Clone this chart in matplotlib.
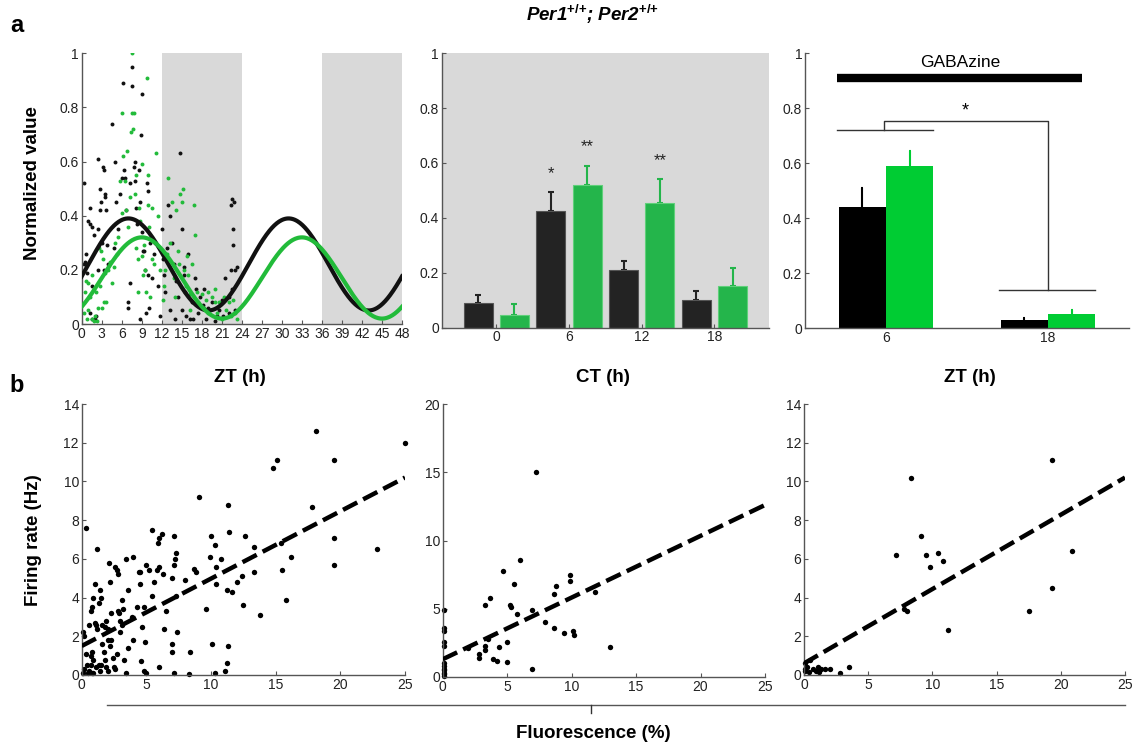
import numpy as np
import matplotlib
matplotlib.use("Agg")
import matplotlib.pyplot as plt
from matplotlib.lines import Line2D

plt.rcParams['font.family'] = ['Liberation Sans', 'DejaVu Sans']
plt.rcParams['mathtext.fontset'] = 'custom'
plt.rcParams['mathtext.it'] = 'Liberation Sans:italic:bold'
plt.rcParams['mathtext.rm'] = 'Liberation Sans:bold'

BLACK = '#111111'
GREEN = '#22bb3a'
GREEN2 = '#00cc33'
GRAY_BG = '#d9d9d9'

# ---- panel a, left: normalized value vs ZT (scatter + cosinor fit) ----
zt_black_x = [0.3, 0.5, 0.4, 0.7, 0.8, 1.0, 1.2, 1.3, 1.5, 1.5, 1.8, 1.2, 1.6, 2.0, 2.2, 2.4, 2.4, 2.5, 2.7, 2.8,
              2.9, 3.0, 3.2, 3.3, 3.5, 3.5, 3.4, 3.6, 3.8, 4.0, 4.5, 4.8, 5.0, 5.2, 5.5, 5.8, 6.0, 6.2, 6.4, 6.5,
              6.7, 6.9, 7.0, 7.2, 7.3, 7.5, 7.6, 7.8, 8.0, 8.0, 8.2, 8.3, 8.6, 8.7, 8.8, 8.9, 9.1, 9.0, 9.2, 9.4,
              9.5, 9.6, 9.8, 9.9, 10.0, 10.1, 10.2, 10.5, 10.8, 11.0, 11.5, 11.8, 12.0, 12.2, 12.3, 12.5, 12.8, 13.0, 13.2, 13.3,
              13.5, 13.8, 14.0, 14.2, 14.5, 14.8, 15.0, 15.1, 15.3, 15.4, 15.5, 15.7, 16.0, 16.2, 16.5, 16.7, 17.0, 17.2, 17.5, 17.8,
              18.2, 18.4, 18.7, 19.0, 19.5, 20.0, 20.3, 20.6, 21.0, 21.2, 21.5, 22.0, 22.3, 22.5, 22.6, 22.7, 22.8, 22.3, 22.5, 23.0,
              23.2, 23.0, 22.0]
zt_black_y = [0.52, 0.23, 0.22, 0.26, 0.19, 0.38, 0.43, 0.37, 0.14, 0.36, 0.33, 0.04, 0.02, 0.02, 0.03, 0.61, 0.20, 0.35, 0.50, 0.42,
              0.45, 0.30, 0.58, 0.57, 0.47, 0.48, 0.20, 0.42, 0.29, 0.22, 0.74, 0.28, 0.60, 0.45, 0.35, 0.48, 0.54, 0.89, 0.57, 0.54,
              0.42, 0.08, 0.06, 0.52, 0.15, 0.88, 0.95, 0.58, 0.53, 0.60, 0.43, 0.37, 0.57, 0.02, 0.45, 0.70, 0.85, 0.34, 0.27, 0.27,
              0.20, 0.04, 0.52, 0.49, 0.18, 0.06, 0.30, 0.17, 0.26, 0.30, 0.14, 0.03, 0.35, 0.24, 0.18, 0.12, 0.28, 0.44, 0.40, 0.05,
              0.30, 0.22, 0.02, 0.16, 0.10, 0.63, 0.35, 0.05, 0.18, 0.21, 0.12, 0.03, 0.26, 0.02, 0.08, 0.02, 0.17, 0.13, 0.04, 0.10,
              0.07, 0.13, 0.02, 0.06, 0.08, 0.01, 0.03, 0.05, 0.09, 0.03, 0.17, 0.04, 0.44, 0.46, 0.29, 0.35, 0.45, 0.20, 0.13, 0.20,
              0.21, 0.05, 0.10]
zt_green_x = [0.1, 0.3, 0.5, 0.6, 0.8, 1.0, 1.0, 1.3, 1.5, 1.6, 1.8, 2.0, 2.1, 2.3, 2.5, 2.6, 2.8, 2.9, 3.0, 3.2,
              3.3, 3.5, 3.7, 4.0, 4.2, 4.5, 4.8, 5.0, 5.3, 5.5, 5.8, 6.0, 6.1, 6.2, 6.5, 6.6, 6.8, 7.0, 7.2, 7.4,
              7.5, 7.6, 7.7, 7.8, 8.0, 8.1, 8.2, 8.4, 8.5, 8.6, 8.8, 9.0, 9.0, 9.2, 9.4, 9.5, 9.6, 9.8, 9.9, 10.0,
              10.1, 10.3, 10.5, 10.6, 10.8, 11.1, 11.4, 11.7, 12.0, 12.2, 12.4, 12.5, 12.8, 13.0, 13.2, 13.5, 13.8, 14.0, 14.2, 14.4,
              14.6, 14.8, 15.0, 15.2, 15.4, 15.6, 16.0, 16.2, 16.5, 16.8, 17.0, 17.3, 17.5, 18.0, 18.3, 18.7, 19.0, 19.3, 19.6, 20.0,
              20.3, 20.6, 21.0, 21.3, 21.6, 22.0, 22.3, 22.7, 23.0, 23.3, 20.0, 19.0, 15.8, 16.3]
zt_green_y = [0.07, 0.04, 0.12, 0.16, 0.02, 0.15, 0.05, 0.10, 0.02, 0.18, 0.01, 0.03, 0.12, 0.01, 0.06, 0.28, 0.14, 0.27, 0.06, 0.24,
              0.08, 0.19, 0.08, 0.20, 0.23, 0.15, 0.21, 0.30, 0.26, 0.32, 0.53, 0.41, 0.78, 0.62, 0.53, 0.42, 0.64, 0.36, 0.47, 0.71,
              0.78, 1.00, 0.72, 0.78, 0.48, 0.55, 0.28, 0.24, 0.12, 0.43, 0.38, 0.59, 0.25, 0.18, 0.29, 0.20, 0.12, 0.91, 0.55, 0.44,
              0.36, 0.10, 0.43, 0.24, 0.22, 0.63, 0.40, 0.20, 0.27, 0.09, 0.14, 0.20, 0.26, 0.54, 0.30, 0.45, 0.17, 0.10, 0.42, 0.27,
              0.22, 0.48, 0.45, 0.50, 0.20, 0.14, 0.18, 0.11, 0.22, 0.44, 0.33, 0.12, 0.08, 0.11, 0.06, 0.09, 0.12, 0.05, 0.10, 0.13,
              0.04, 0.08, 0.02, 0.10, 0.05, 0.08, 0.03, 0.09, 0.04, 0.02, 0.08, 0.04, 0.25, 0.05]
# cosinor fit parameters: mesor, amplitude, acrophase (h), period (h)
fit_black = (0.22, 0.17, 7.0, 24.0)
fit_green = (0.17, 0.15, 9.0, 24.0)
dark_phases = [(12, 24), (36, 48)]

# ---- panel a, middle: CT bars ----
ct_groups = [0, 6, 12, 18]
ct_black = [0.09, 0.425, 0.21, 0.10]
ct_black_err = [0.03, 0.07, 0.033, 0.033]
ct_green = [0.045, 0.52, 0.455, 0.15]
ct_green_err = [0.04, 0.07, 0.085, 0.067]
ct_stars = [(4.5, 0.56, '*'), (7.5, 0.66, '**'), (13.5, 0.61, '**')]

# ---- panel a, right: GABAzine bars ----
gz_groups = [6, 18]
gz_black = [0.44, 0.03]
gz_black_err = [0.07, 0.005]
gz_green = [0.59, 0.05]
gz_green_err = [0.055, 0.015]

# ---- panel b: firing rate vs fluorescence ----
b1_x = [0.3, 1.2, 0.1, 0.2, 0.3, 0.4, 0.1, 0.2, 0.5, 0.6, 0.7, 0.8, 0.9, 0.7, 0.8, 0.9, 0.6, 0.7, 0.8, 0.9,
        1.0, 1.1, 1.2, 1.0, 1.3, 1.4, 1.5, 1.6, 1.1, 1.3, 1.4, 1.5, 1.6, 1.7, 1.8, 1.9, 2.0, 1.8, 1.9, 2.0,
        2.1, 2.2, 2.3, 2.0, 2.2, 2.3, 2.4, 2.5, 2.6, 2.7, 2.8, 2.8, 2.9, 3.0, 3.1, 3.0, 3.2, 2.7, 2.6, 3.1,
        3.4, 3.3, 3.4, 3.6, 3.6, 3.9, 4.0, 4.0, 4.3, 4.4, 4.5, 4.5, 4.6, 4.7, 4.8, 4.9, 4.8, 5.0, 5.0, 5.2,
        5.4, 5.4, 5.6, 5.8, 5.9, 6.0, 6.2, 6.0, 6.3, 6.4, 6.5, 6.0, 7.0, 7.0, 7.0, 7.1, 7.1, 7.2, 7.3, 7.1,
        7.3, 7.4, 8.0, 8.4, 8.3, 8.7, 8.8, 9.1, 9.6, 9.9, 10.0, 10.1, 10.3, 10.4, 10.4, 10.3, 10.8, 11.2, 11.3, 11.4,
        11.6, 11.2, 11.1, 11.3, 12.0, 12.4, 12.6, 12.5, 13.3, 13.3, 13.8, 14.8, 15.1, 15.5, 15.8, 16.2, 17.8, 18.1, 19.5, 19.5,
        19.5, 22.8, 25.0, 15.4]
b1_y = [7.6, 6.5, 2.2, 2.0, 1.1, 0.5, 0.1, 0.3, 0.1, 0.2, 0.5, 0.1, 0.1, 1.0, 1.2, 0.8, 2.6, 3.3, 3.5, 4.0,
        2.7, 2.6, 2.4, 4.7, 3.7, 4.4, 4.0, 2.6, 0.4, 0.5, 0.2, 0.5, 1.6, 1.2, 0.8, 0.4, 0.2, 2.5, 2.8, 2.4,
        5.8, 4.8, 3.2, 1.8, 1.5, 1.8, 0.9, 0.4, 5.6, 5.4, 5.2, 3.3, 3.2, 2.8, 3.9, 2.2, 3.4, 1.1, 0.3, 2.6,
        6.0, 0.8, 0.1, 1.4, 4.4, 3.0, 6.1, 1.8, 3.5, 5.3, 5.3, 4.7, 0.7, 2.5, 3.5, 1.7, 0.2, 0.1, 5.7, 5.4,
        4.1, 7.5, 4.8, 5.4, 6.8, 7.1, 7.3, 5.6, 5.2, 2.4, 3.3, 0.4, 5.0, 1.6, 1.2, 7.2, 5.7, 6.0, 6.3, 0.1,
        4.1, 2.2, 4.9, 1.2, 0.05, 5.5, 5.3, 9.2, 3.4, 6.1, 7.2, 1.6, 6.7, 5.6, 4.7, 0.1, 6.0, 4.4, 8.8, 7.4,
        4.3, 0.6, 0.2, 1.5, 4.8, 5.1, 7.2, 3.6, 6.6, 5.3, 3.1, 10.7, 11.1, 5.4, 3.9, 6.1, 8.7, 12.6, 11.1, 7.1,
        5.7, 6.5, 12.0, 6.8]
b2_x = [0.1, 0.1, 0.1, 0.1, 0.1, 0.1, 0.1, 0.1, 0.1, 0.1, 0.1, 0.1, 2.0, 2.8, 2.8, 3.3, 3.3, 3.3, 3.5, 3.7,
        3.9, 4.2, 4.4, 4.7, 5.0, 5.0, 5.2, 5.3, 5.5, 5.8, 6.0, 6.9, 6.9, 7.2, 7.9, 8.6, 8.6, 8.8, 9.4, 9.9,
        9.9, 10.1, 10.2, 11.8, 13.0]
b2_y = [4.9, 3.6, 3.4, 2.6, 2.3, 1.0, 0.8, 0.6, 0.3, 0.1, 0.5, 0.2, 2.1, 1.7, 1.4, 5.3, 2.3, 2.0, 2.8, 5.8,
        1.3, 1.2, 2.2, 7.8, 2.6, 1.1, 5.3, 5.1, 6.8, 4.6, 8.6, 4.9, 0.6, 15.0, 4.0, 6.1, 3.6, 6.7, 3.2, 7.5,
        7.0, 3.4, 3.1, 6.2, 2.2]
b3_x = [0.05, 0.1, 0.1, 0.2, 0.4, 0.5, 0.7, 0.9, 1.1, 1.2, 1.3, 1.6, 2.0, 2.8, 3.5, 7.2, 8.0, 8.3, 9.1, 9.5,
        9.8, 10.4, 10.8, 11.2, 17.5, 19.3, 19.3, 20.9, 7.8]
b3_y = [0.6, 0.3, 0.2, 0.4, 0.15, 0.8, 0.3, 0.2, 0.4, 0.15, 0.3, 0.3, 0.3, 0.1, 0.4, 6.2, 3.3, 10.2, 7.2, 6.2,
        5.6, 6.3, 5.9, 2.3, 3.3, 11.1, 4.5, 6.4, 3.4]
# regression lines: (intercept, slope)
b1_fit = (1.5, 0.348)
b2_fit = (1.3, 0.452)
b3_fit = (0.6, 0.384)

W, H = 1134, 746


def box(x0, y0, x1, y1):
    # pixel box (left, top, right, bottom) -> figure fractions
    return [x0 / W, 1 - y1 / H, (x1 - x0) / W, (y1 - y0) / H]


def style(ax):
    for s in ['top', 'right']:
        ax.spines[s].set_visible(False)
    for s in ['left', 'bottom']:
        ax.spines[s].set_color('#555555')
        ax.spines[s].set_linewidth(1.0)
    ax.tick_params(direction='in', length=3, width=0.8, color='#555555',
                   labelsize=10, labelcolor='#222222', pad=2)


fig = plt.figure(figsize=(W / 100, H / 100), dpi=100)

# panel a, left
ax1 = fig.add_axes(box(81.7, 53.3, 402, 324))
style(ax1)
for a, b in dark_phases:
    ax1.axvspan(a, b, 0, 1, color=GRAY_BG, lw=0, zorder=0)
ax1.scatter(zt_black_x, zt_black_y, s=8, color=BLACK, lw=0, zorder=2)
ax1.scatter(zt_green_x, zt_green_y, s=8, color=GREEN, lw=0, zorder=2)
t = np.linspace(0, 48, 400)
for p, c in [(fit_black, BLACK), (fit_green, GREEN)]:
    m, amp, phi, per = p
    ax1.plot(t, m + amp * np.cos(2 * np.pi * (t - phi) / per), color=c, lw=3, zorder=3)
ax1.set_xlim(0, 48)
ax1.set_ylim(0, 1)
ax1.set_xticks(np.arange(0, 49, 3))
ax1.set_yticks([0, 0.2, 0.4, 0.6, 0.8, 1])
ax1.set_yticklabels(['0', '0.2', '0.4', '0.6', '0.8', '1'])

# panel a, middle
ax2 = fig.add_axes(box(441.7, 53.3, 769, 327.5))
style(ax2)
ax2.set_facecolor(GRAY_BG)
bw = 2.4
xb = np.array(ct_groups) - 1.5
xg = np.array(ct_groups) + 1.5
ax2.bar(xb, ct_black, bw, color='#232323', edgecolor='#555555', lw=0.8, zorder=2)
ax2.bar(xg, ct_green, bw, color='#24b54b', edgecolor='#5fd07a', lw=0.8, zorder=2)
ax2.errorbar(xb, ct_black, yerr=[np.zeros(4), ct_black_err], fmt='none', ecolor='#232323',
             elinewidth=1.5, capsize=2, capthick=1.5, zorder=1)
ax2.errorbar(xg, ct_green, yerr=[np.zeros(4), ct_green_err], fmt='none', ecolor='#24b54b',
             elinewidth=1.5, capsize=2, capthick=1.5, zorder=1)
for x, y, s in ct_stars:
    ax2.text(x, y, s, ha='center', va='center', fontsize=12, color='#222222')
ax2.set_xlim(-4.5, 22.5)
ax2.set_ylim(0, 1)
ax2.set_xticks(ct_groups)
ax2.set_yticks([0, 0.2, 0.4, 0.6, 0.8, 1])
ax2.set_yticklabels(['0', '0.2', '0.4', '0.6', '0.8', '1'])

# panel a, right
ax3 = fig.add_axes(box(805, 53.3, 1129, 328))
style(ax3)
gw = 3.5
gb = np.array(gz_groups) - gw / 2
gg = np.array(gz_groups) + gw / 2
ax3.bar(gb, gz_black, gw, color='#000000', zorder=2)
ax3.bar(gg, gz_green, gw, color=GREEN2, zorder=2)
ax3.errorbar(gb, gz_black, yerr=[np.zeros(2), gz_black_err], fmt='none', ecolor='#000000',
             elinewidth=1.5, capsize=1, capthick=1.5, zorder=1)
ax3.errorbar(gg, gz_green, yerr=[np.zeros(2), gz_green_err], fmt='none', ecolor=GREEN2,
             elinewidth=1.5, capsize=1, capthick=1.5, zorder=1)
ax3.plot([2.4, 20.5], [0.91, 0.91], color='black', lw=6, solid_capstyle='butt')
ax3.text(11.5, 0.965, 'GABAzine', ha='center', va='center', fontsize=12.5)
ax3.plot([2.4, 9.5], [0.72, 0.72], color='#333333', lw=1)
ax3.plot([5.85, 5.85, 18, 18], [0.72, 0.755, 0.755, 0.14], color='#333333', lw=1)
ax3.plot([14.4, 21.5], [0.14, 0.14], color='#333333', lw=1)
ax3.text(11.85, 0.79, '*', ha='center', va='center', fontsize=13)
ax3.set_xlim(0, 24)
ax3.set_ylim(0, 1)
ax3.set_xticks(gz_groups)
ax3.set_yticks([0, 0.2, 0.4, 0.6, 0.8, 1])
ax3.set_yticklabels(['0', '0.2', '0.4', '0.6', '0.8', '1'])

# panel b
panels_b = [
    (box(81.7, 404, 405, 675), b1_x, b1_y, b1_fit, 14, np.arange(0, 15, 2)),
    (box(442.7, 404, 765, 677), b2_x, b2_y, b2_fit, 20, np.arange(0, 21, 5)),
    (box(804, 404, 1125, 675), b3_x, b3_y, b3_fit, 14, np.arange(0, 15, 2)),
]
for rect, xs, ys, fit, ymax, yt in panels_b:
    ax = fig.add_axes(rect)
    style(ax)
    ax.scatter(xs, ys, s=15, color='black', lw=0, zorder=2, clip_on=False)
    xx = np.array([0, 25])
    ax.plot(xx, fit[0] + fit[1] * xx, color='black', lw=3.2, dashes=(3.6, 1.5), zorder=3)
    ax.set_xlim(0, 25)
    ax.set_ylim(0, ymax)
    ax.set_xticks(np.arange(0, 26, 5))
    ax.set_yticks(yt)

# shared bottom axis line for panel b
fig.add_artist(Line2D([107 / W, 1125 / W], [1 - 705 / H, 1 - 705 / H], color='#555555', lw=1))
fig.add_artist(Line2D([591 / W, 591 / W], [1 - 705 / H, 1 - 713 / H], color='#333333', lw=1))

# labels
fig.text(17 / W, 1 - 26 / H, 'a', ha='center', va='center', fontsize=17, fontweight='bold')
fig.text(17 / W, 1 - 385 / H, 'b', ha='center', va='center', fontsize=17, fontweight='bold')
fig.text(593 / W, 1 - 14 / H, r'Per1$^{\mathit{{+}/{+}}}$; Per2$^{\mathit{{+}/{+}}}$',
         ha='center', va='center', fontsize=13.5, fontweight='bold', fontstyle='italic')
for x, s in [(240, 'ZT (h)'), (603, 'CT (h)'), (970, 'ZT (h)')]:
    fig.text(x / W, 1 - 378 / H, s, ha='center', va='center', fontsize=13.5, fontweight='bold')
fig.text(33 / W, 1 - 183 / H, 'Normalized value', rotation=90, ha='center', va='center',
         fontsize=13.5, fontweight='bold')
fig.text(33 / W, 1 - 540 / H, 'Firing rate (Hz)', rotation=90, ha='center', va='center',
         fontsize=13.5, fontweight='bold')
fig.text(593 / W, 1 - 733 / H, 'Fluorescence (%)', ha='center', va='center', fontsize=13.5,
         fontweight='bold')

fig.savefig('out.png', dpi=100)
